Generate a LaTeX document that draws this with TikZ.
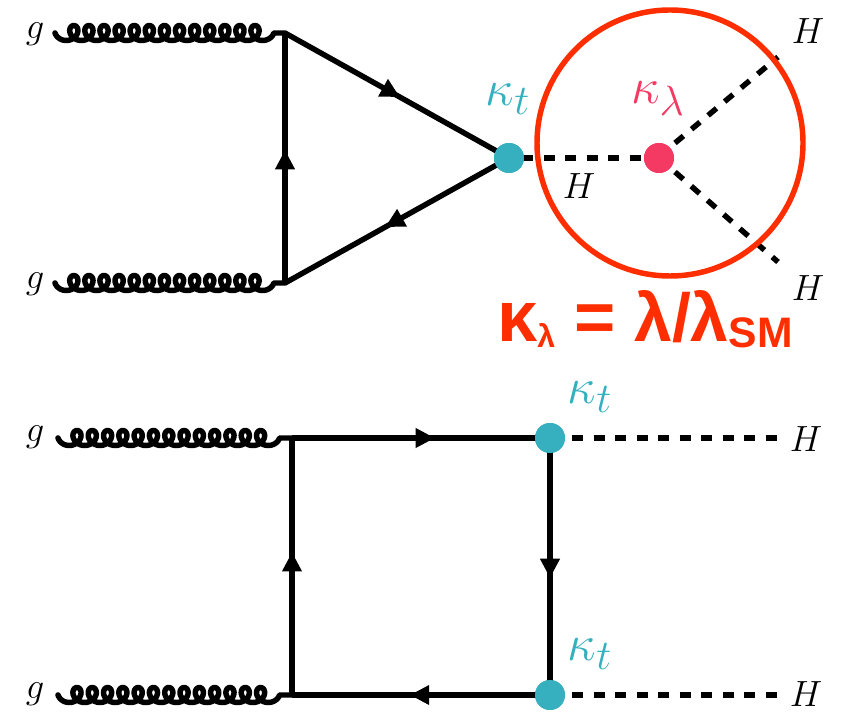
\documentclass[tikz,border=0pt]{standalone}
\usepackage{fontspec}
\newfontfamily\labfont{Liberation Sans}[Scale=1]
\usetikzlibrary{decorations.markings,arrows.meta}
\definecolor{teal1}{HTML}{36B0BF}
\definecolor{pink1}{HTML}{F43A62}
\definecolor{red1}{HTML}{FF2E00}
\tikzset{
  x=0.75pt,y=-0.75pt,
  ln/.style={line width=4.1pt,black},
  fermion/.style={ln,postaction={decorate},decoration={markings,mark=at position #1 with {\arrow{Triangle[length=14.5pt,width=14pt]}}}},
  gluonline/.style={line width=4.1pt,black,line cap=round,line join=round},
  higgs/.style={ln,dash pattern=on 8.25pt off 7.9pt},
  dot/.style={circle,inner sep=0pt,minimum size=22.5pt,fill=#1},
  lab/.style={font=\Huge,scale=1.1,inner sep=0pt},
  kap/.style={font=\Huge,scale=1.53,inner sep=0pt,text=#1},
}
% #1 start, #2 end, #3 pitch
\newcommand{\gluonpath}[3]{%
  \draw[gluonline,shift={(#1)}] plot[variable=\t,domain=-90:4770,samples=400]
    ({#3*((\t+90)/360)+7.5*(1+sin(\t))},{7.5*cos(\t)}) -- (#2);}
\begin{document}
\begin{tikzpicture}
\useasboundingbox (0,0) rectangle (845,712);
% upper diagram
\coordinate (g1) at (55,33);
\coordinate (g2) at (55,283);
\coordinate (a1) at (285,33);
\coordinate (a2) at (285,283);
\coordinate (h1s) at (675,143);
\coordinate (h2s) at (675,172);
\coordinate (h1e) at (778,57);
\coordinate (h2e) at (778,262);
\coordinate (h0s) at (522,158);
\node[dot=teal1] (kt1) at (509,158) {};
\node[dot=pink1] (kl) at (659,158) {};
\gluonpath{g1}{a1}{15.1}
\gluonpath{g2}{a2}{15.1}
\draw[fermion=0.532] (a2) -- (a1);
\draw[fermion=0.513] (a1) -- (kt1.center);
\draw[fermion=0.553] (kt1.center) -- (a2);
\draw[higgs] (h0s) -- (kl);
\draw[higgs] (h1s) -- (h1e);
\draw[higgs] (h2s) -- (h2e);
\node[draw=red1,line width=4.1pt,circle,inner sep=0pt,minimum size=199.5pt] (ring) at (670,143) {};
\node[dot=teal1] at (kt1.center) {};
\node[dot=pink1] at (kl.center) {};
\node[lab] (lg1) at (35,34) {$g$};
\node[lab] (lg2) at (35,284) {$g$};
\node[lab] (lh1) at (808,31) {$H$};
\node[lab] (lh2) at (808,288) {$H$};
\node[lab] (lh3) at (579,186) {$H$};
\node[kap=teal1] (lk1) at (508,99) {$\kappa_t$};
\node[kap=pink1] (lk2) at (658,99) {$\kappa_\lambda$};
\node[anchor=base west,inner sep=0pt,text=red1] (big) at (497,342) {\labfont\bfseries\fontsize{51}{51}\selectfont {\fontsize{54}{54}\selectfont κ}\raisebox{-4pt}{\fontsize{24}{24}\selectfont λ} {\fontsize{53}{53}\selectfont =} λ/λ\raisebox{-4pt}{\fontsize{32}{32}\selectfont SM}};
% lower diagram
\coordinate (g3) at (58,438);
\coordinate (g4) at (58,695);
\coordinate (b1) at (292,438);
\coordinate (b2) at (292,695);
\coordinate (h3s) at (572,438);
\coordinate (h4s) at (572,695);
\coordinate (h3e) at (778,438);
\coordinate (h4e) at (778,695);
\node[dot=teal1] (kt2) at (550,438) {};
\node[dot=teal1] (kt3) at (550,695) {};
\gluonpath{g3}{b1}{15.3}
\gluonpath{g4}{b2}{15.3}
\draw[fermion=0.554] (b1) -- (kt2.center);
\draw[fermion=0.545] (kt2.center) -- (kt3.center);
\draw[fermion=0.543] (kt3.center) -- (b2);
\draw[fermion=0.556] (b2) -- (b1);
\draw[higgs] (h3s) -- (h3e);
\draw[higgs] (h4s) -- (h4e);
\node[dot=teal1] at (kt2.center) {};
\node[dot=teal1] at (kt3.center) {};
\node[lab] (lg3) at (35,437) {$g$};
\node[lab] (lg4) at (35,694) {$g$};
\node[lab] (lh4) at (806,439) {$H$};
\node[lab] (lh5) at (806,694) {$H$};
\node[kap=teal1] (lk3) at (590,397) {$\kappa_t$};
\node[kap=teal1] (lk4) at (590,654) {$\kappa_t$};
\end{tikzpicture}
\end{document}
